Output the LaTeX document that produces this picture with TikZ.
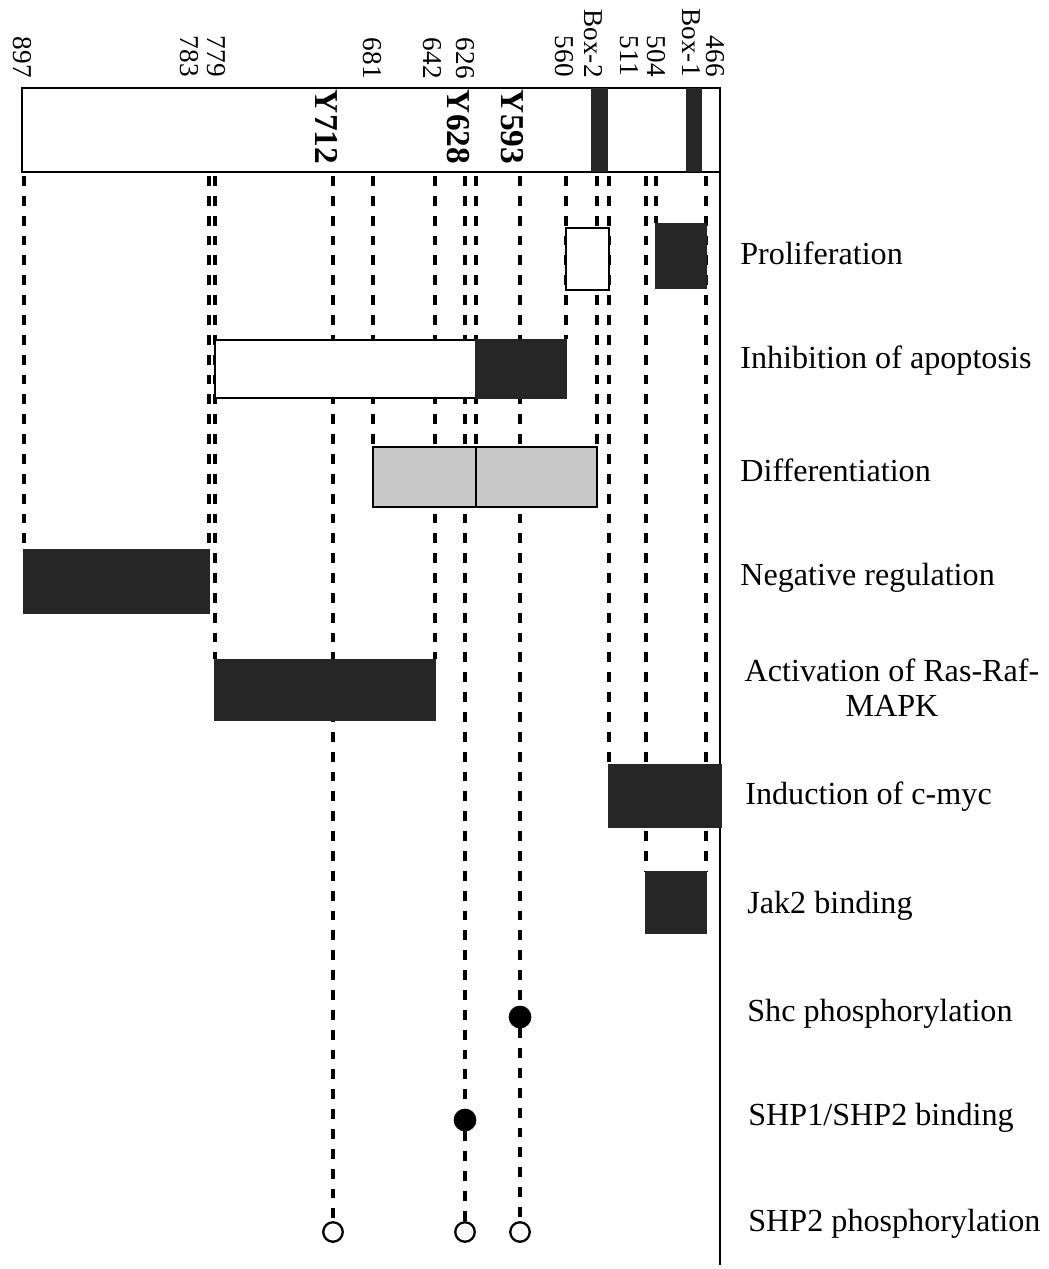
\documentclass[tikz,border=0pt]{standalone}
\usepackage{fontspec}
\setmainfont{Liberation Serif}
\usetikzlibrary{fit,backgrounds}
\definecolor{epoInk}{HTML}{262626}
\definecolor{epoGray}{HTML}{C8C8C8}

\begin{document}
\begin{tikzpicture}[
  x=0.02cm, y=-0.02cm,
  lbl/.style ={font=\fontsize{18.3}{20}\selectfont,anchor=west,inner sep=0pt},
  num/.style ={font=\fontsize{15.5}{15.5}\selectfont,rotate=-90,anchor=east,inner sep=0pt,align=left},
  tyr/.style ={font=\fontsize{19}{20}\selectfont\bfseries,rotate=-90,inner sep=0pt},
  guide/.style ={draw=black,line width=1.8pt,dash pattern=on 5.6pt off 5.7pt},
  axisline/.style ={draw=black,line width=1.6pt},
  barbox/.style ={rectangle,fill=white,draw=black,line width=1.6pt,inner sep=0pt},
  openbox/.style ={rectangle,fill=white,draw=black,line width=1.6pt,inner sep=0pt},
  blkbox/.style ={rectangle,fill=epoInk,draw=epoInk,line width=0.6pt,inner sep=0pt},
  greybox/.style ={rectangle,fill=epoGray,draw=black,line width=1.6pt,inner sep=0pt},
  dotfull/.style ={circle,fill=black,draw=black,minimum size=0.44cm,inner sep=0pt},
  dotopen/.style ={circle,fill=white,draw=black,line width=1.3pt,minimum size=0.39cm,inner sep=0pt}
]
\useasboundingbox (0,0) rectangle (1049,1269);

% receptor bar with Box-1 / Box-2
\node[barbox,fit={(22,88) (720,172)}] (bar) {};
\node[blkbox,fit={(592,89) (607,171)}] (box2) {};
\node[blkbox,fit={(687,89) (701,171)}] (box1) {};
\coordinate (axisTop) at (720,88);
\coordinate (axisEnd) at (720,1265);
\draw[axisline] (axisTop) -- (axisEnd);

% residue numbers
\node[num] (n897) at (22,78) {897};
\node[num] (n779) at (203,77) {779\\783};
\node[num] (n681) at (372,79) {681};
\node[num] (n642) at (432,79) {642};
\node[num] (n626) at (465,79) {626};
\node[num] (n560) at (564,77) {560};
\node[num] (nbox2) at (593,78) {Box-2};
\node[num] (n504) at (643,77) {504\\511};
\node[num] (nbox1) at (691,77) {Box-1};
\node[num] (n466) at (715,77) {466};

% tyrosines
\node[tyr] (y712) at (327,127) {Y712};
\node[tyr] (y628) at (458,127) {Y628};
\node[tyr] (y593) at (512,127) {Y593};

% ticks on the lower edge of the bar
\coordinate (t897)  at (24,176);
\coordinate (t783)  at (209,176);
\coordinate (t779)  at (215,176);
\coordinate (tY712) at (333,176);
\coordinate (t681)  at (373,176);
\coordinate (t642)  at (435,176);
\coordinate (tY628) at (465,176);
\coordinate (t626)  at (476,176);
\coordinate (tY593) at (520,176);
\coordinate (t560)  at (566,176);
\coordinate (tb2a)  at (597,176);
\coordinate (tb2b)  at (609,176);
\coordinate (t511)  at (646,176);
\coordinate (t504)  at (656,176);
\coordinate (t466)  at (706,176);

% function boxes
\node[openbox,fit={(566,228) (609,290)}] (prolifA) {};
\node[blkbox,fit={(656,224) (706,288)}] (prolifB) {};
\node[openbox,fit={(215,340) (476,398)}] (inhibA) {};
\node[blkbox,fit={(476,340) (566,398)}] (inhibB) {};
\node[greybox,fit={(373,447) (476,507)}] (diffA) {};
\node[greybox,fit={(476,447) (597,507)}] (diffB) {};
\node[blkbox,fit={(24,550) (209,613)}] (negreg) {};
\node[blkbox,fit={(215,660) (435,720)}] (activ) {};
\node[blkbox,fit={(609,765) (721,827)}] (cmyc) {};
\node[blkbox,fit={(646,872) (706,933)}] (jak2) {};

% binding / phosphorylation sites
\node[dotfull] (shc) at (520,1017) {};
\node[dotfull] (shp) at (465,1120) {};
\node[dotopen] (c712) at (333,1232) {};
\node[dotopen] (c628) at (465,1232) {};
\node[dotopen] (c593) at (520,1232) {};

% dashed guides
\begin{scope}[on background layer]
\draw[guide] (t897)  -- (t897 |- negreg.north);
\draw[guide] (t783)  -- (t783 |- negreg.north);
\draw[guide] (t779)  -- (t779 |- activ.north);
\draw[guide] (tY712) -- (c712);
\draw[guide] (t681)  -- (t681 |- diffA.north);
\draw[guide] (t642)  -- (t642 |- activ.north);
\draw[guide] (tY628) -- (shp);
\draw[guide] (shp)   -- (c628);
\draw[guide] (t626)  -- (t626 |- diffA.north);
\draw[guide] (tY593) -- (shc);
\draw[guide] (shc)   -- (c593);
\draw[guide] (t560)  -- (t560 |- inhibB.north);
\draw[guide] (tb2a)  -- (tb2a |- diffB.north);
\draw[guide] (tb2b)  -- (tb2b |- cmyc.north);
\draw[guide] (t511)  -- (t511 |- jak2.north);
\draw[guide] (t504)  -- (t504 |- prolifB.north);
\draw[guide] (t466)  -- (t466 |- jak2.north);
\end{scope}

% functions
\node[lbl] (lprolif) at (740,253) {Proliferation};
\node[lbl] (linhib) at (740,361) {Inhibition of apoptosis};
\node[lbl] (ldiff) at (740,470) {Differentiation};
\node[lbl] (lneg) at (740,578) {Negative regulation};
\node[lbl,anchor=center,align=center] (lras) at (892,688) {Activation of Ras-Raf-\\MAPK};
\node[lbl] (lmyc) at (745,797) {Induction of c-myc};
\node[lbl] (ljak) at (747,906) {Jak2 binding};
\node[lbl] (lshc) at (747,1014) {Shc phosphorylation};
\node[lbl] (lshp) at (748,1118) {SHP1/SHP2 binding};
\node[lbl] (lshp2) at (748,1224) {SHP2 phosphorylation};
\end{tikzpicture}
\end{document}
